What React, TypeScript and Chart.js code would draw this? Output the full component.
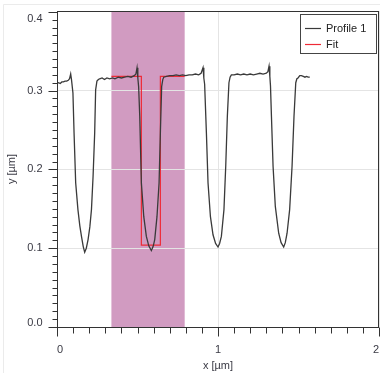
import React, { useEffect, useRef } from 'react';
import { Chart, registerables } from 'chart.js';

Chart.register(...registerables);

// Profile 1 (x in µm, y in µm)
const profileX = [
  0.000, 0.010, 0.020, 0.030, 0.040, 0.050, 0.060, 0.070, 0.078, 0.085,
  0.090, 0.099, 0.106, 0.116, 0.130, 0.142, 0.152, 0.163, 0.172, 0.182, 0.193, 0.204, 0.214, 0.224, 0.234, 0.240, 0.248, 0.257,
  0.265, 0.280, 0.295, 0.310, 0.327, 0.345, 0.360, 0.380, 0.400, 0.420, 0.440, 0.460, 0.480, 0.490, 0.497,
  0.502, 0.507, 0.514, 0.524, 0.539, 0.555, 0.570, 0.586, 0.597, 0.607, 0.621, 0.634, 0.642, 0.650, 0.657, 0.663,
  0.680, 0.700, 0.721, 0.740, 0.760, 0.780, 0.800, 0.820, 0.840, 0.860, 0.880, 0.895, 0.907,
  0.912, 0.917, 0.928, 0.938, 0.953, 0.969, 0.985, 1.000, 1.010, 1.021, 1.037, 1.048, 1.058, 1.068, 1.075, 1.083,
  1.100, 1.120, 1.140, 1.160, 1.180, 1.200, 1.220, 1.240, 1.260, 1.280, 1.300, 1.310, 1.317,
  1.322, 1.326, 1.332, 1.342, 1.356, 1.377, 1.392, 1.408, 1.418, 1.429, 1.445, 1.460, 1.472, 1.483, 1.490, 1.497,
  1.508, 1.518, 1.530, 1.540, 1.550, 1.560, 1.570,
];
const profileY = [
  0.309, 0.310, 0.309, 0.311, 0.311, 0.312, 0.312, 0.313, 0.315, 0.321,
  0.314, 0.297, 0.246, 0.183, 0.149, 0.128, 0.115, 0.102, 0.095, 0.100, 0.111, 0.127, 0.149, 0.191, 0.246, 0.301, 0.312, 0.314,
  0.315, 0.316, 0.314, 0.316, 0.315, 0.316, 0.315, 0.317, 0.316, 0.317, 0.318, 0.317, 0.319, 0.321, 0.329,
  0.316, 0.305, 0.267, 0.183, 0.140, 0.115, 0.103, 0.097, 0.102, 0.111, 0.140, 0.183, 0.246, 0.305, 0.314, 0.317,
  0.318, 0.319, 0.319, 0.320, 0.319, 0.320, 0.319, 0.320, 0.320, 0.321, 0.320, 0.322, 0.329,
  0.316, 0.308, 0.246, 0.183, 0.140, 0.117, 0.106, 0.1015, 0.106, 0.115, 0.149, 0.204, 0.267, 0.310, 0.317, 0.320,
  0.320, 0.321, 0.320, 0.321, 0.320, 0.321, 0.320, 0.321, 0.322, 0.321, 0.322, 0.324, 0.331,
  0.318, 0.306, 0.267, 0.204, 0.153, 0.119, 0.107, 0.1015, 0.107, 0.119, 0.149, 0.204, 0.267, 0.310, 0.315, 0.316,
  0.319, 0.319, 0.318, 0.317, 0.318, 0.317, 0.317,
];

// Fit (step profile)
const fitX = [0.338, 0.524, 0.524, 0.642, 0.642, 0.793];
const fitY = [0.318, 0.318, 0.104, 0.104, 0.318, 0.318];

// Highlighted region
const bandStart = 0.338;
const bandEnd = 0.793;

const xMin = 0;
const xMax = 2;
const yMin = 0;
const yMax = 0.401;

const FONT = '"Liberation Sans", Arial, sans-serif';
const TEXT = '#3a3a44';

const decorPlugin = {
  id: 'decor',
  beforeDraw(chart: any) {
    const { ctx, chartArea, scales, width, height } = chart;
    ctx.save();
    // faint outer panel frame
    ctx.strokeStyle = '#ebebeb';
    ctx.lineWidth = 1;
    ctx.beginPath();
    ctx.moveTo(3.5, height);
    ctx.lineTo(3.5, 4.5);
    ctx.lineTo(width, 4.5);
    ctx.stroke();
    // band
    const x0 = scales.x.getPixelForValue(bandStart);
    const x1 = scales.x.getPixelForValue(bandEnd);
    ctx.fillStyle = '#d19bc1';
    ctx.fillRect(x0, chartArea.top, x1 - x0, chartArea.bottom - chartArea.top);
    ctx.restore();
  },
  afterDraw(chart: any) {
    const { ctx, chartArea, scales } = chart;
    const { left, right, top, bottom } = chartArea;
    const L = Math.round(left) + 0.5;
    const B = Math.round(bottom) + 0.5;
    ctx.save();
    ctx.strokeStyle = '#333';
    ctx.lineWidth = 1;
    // frame
    ctx.strokeRect(L, Math.round(top) + 0.5, Math.round(right) - 1 - L + 0.5, B - Math.round(top) - 0.5);
    // y ticks
    ctx.beginPath();
    for (let i = 0; i <= 40; i++) {
      const v = i / 100;
      const py = Math.round(scales.y.getPixelForValue(v)) + 0.5;
      const len = i % 10 === 0 ? 9 : 5;
      ctx.moveTo(L - len, py);
      ctx.lineTo(L, py);
    }
    // x ticks
    for (let i = 0; i <= 20; i++) {
      const v = i / 10;
      const px = Math.round(scales.x.getPixelForValue(v)) + 0.5;
      const len = i % 10 === 0 ? 9 : 6;
      ctx.moveTo(px, B);
      ctx.lineTo(px, B + len);
    }
    ctx.stroke();

    // y tick labels (inner aligned at the ends)
    ctx.font = '11px ' + FONT;
    ctx.fillStyle = TEXT;
    ctx.textAlign = 'right';
    ctx.textBaseline = 'middle';
    const yt = scales.y.ticks;
    yt.forEach((t: any, i: number) => {
      let py = scales.y.getPixelForValue(t.value);
      if (i === 0) py -= 4;
      if (i === yt.length - 1) py += 7;
      ctx.fillText(Number(t.value).toFixed(1), L - 15, py);
    });

    // legend
    const ds = chart.data.datasets;
    const bw = 76;
    const bh = 39;
    const bx = Math.round(right) - 3 - bw;
    const by = Math.round(top) + 3;
    ctx.fillStyle = '#fff';
    ctx.fillRect(bx, by, bw, bh);
    ctx.strokeStyle = '#444';
    ctx.strokeRect(bx + 0.5, by + 0.5, bw, bh);
    ctx.textAlign = 'left';
    ds.forEach((d: any, i: number) => {
      const cy = by + 14 + i * 16;
      ctx.strokeStyle = d.borderColor;
      ctx.lineWidth = 1.2;
      ctx.beginPath();
      ctx.moveTo(bx + 5, cy + 0.5);
      ctx.lineTo(bx + 21, cy + 0.5);
      ctx.stroke();
      ctx.fillStyle = '#222';
      ctx.fillText(d.label, bx + 26, cy + 0.5);
    });
    ctx.restore();
  },
};

export default function App() {
  const ref = useRef<HTMLCanvasElement>(null);
  useEffect(() => {
    document.body.style.margin = '0';
    const canvas = ref.current!;
    const chart = new Chart(canvas, {
      type: 'line',
      data: {
        datasets: [
          {
            label: 'Profile 1',
            data: profileX.map((x, i) => ({ x, y: profileY[i] })),
            borderColor: '#3a3a3a',
            borderWidth: 1.3,
            pointRadius: 0,
            tension: 0,
            fill: false,
            order: 0,
          },
          {
            label: 'Fit',
            data: fitX.map((x, i) => ({ x, y: fitY[i] })),
            borderColor: '#ee2a36',
            borderWidth: 1.2,
            pointRadius: 0,
            tension: 0,
            fill: false,
            order: 1,
          },
        ],
      },
      options: {
        animation: false,
        responsive: false,
        devicePixelRatio: 1,
        layout: { padding: { top: 11, right: 1, left: 0, bottom: 0 } },
        plugins: { legend: { display: false }, tooltip: { enabled: false } },
        scales: {
          x: {
            type: 'linear',
            min: xMin,
            max: xMax,
            ticks: {
              stepSize: 1,
              align: 'inner',
              padding: 0,
              color: TEXT,
              font: { family: FONT, size: 11 },
              callback: (v: any) => String(v),
            },
            grid: { color: '#e4e4e4', drawTicks: true, tickLength: 16, tickColor: 'rgba(0,0,0,0)' },
            border: { display: false },
            title: {
              display: true,
              text: 'x [µm]',
              color: TEXT,
              font: { family: FONT, size: 11 },
              padding: { top: 0, bottom: 0 },
            },
            afterFit: (s: any) => {
              s.height = 46;
            },
          },
          y: {
            type: 'linear',
            min: yMin,
            max: yMax,
            ticks: {
              stepSize: 0.1,
              includeBounds: false,
              display: false,
            },
            grid: { color: '#e4e4e4', drawTicks: false },
            border: { display: false },
            title: {
              display: true,
              text: 'y [µm]',
              color: TEXT,
              font: { family: FONT, size: 11 },
              padding: { top: 5, bottom: 0 },
            },
            afterFit: (s: any) => {
              s.width = 57;
            },
          },
        },
      },
      plugins: [decorPlugin],
    });
    return () => chart.destroy();
  }, []);
  return <canvas ref={ref} width={380} height={373} style={{ display: 'block' }} />;
}
